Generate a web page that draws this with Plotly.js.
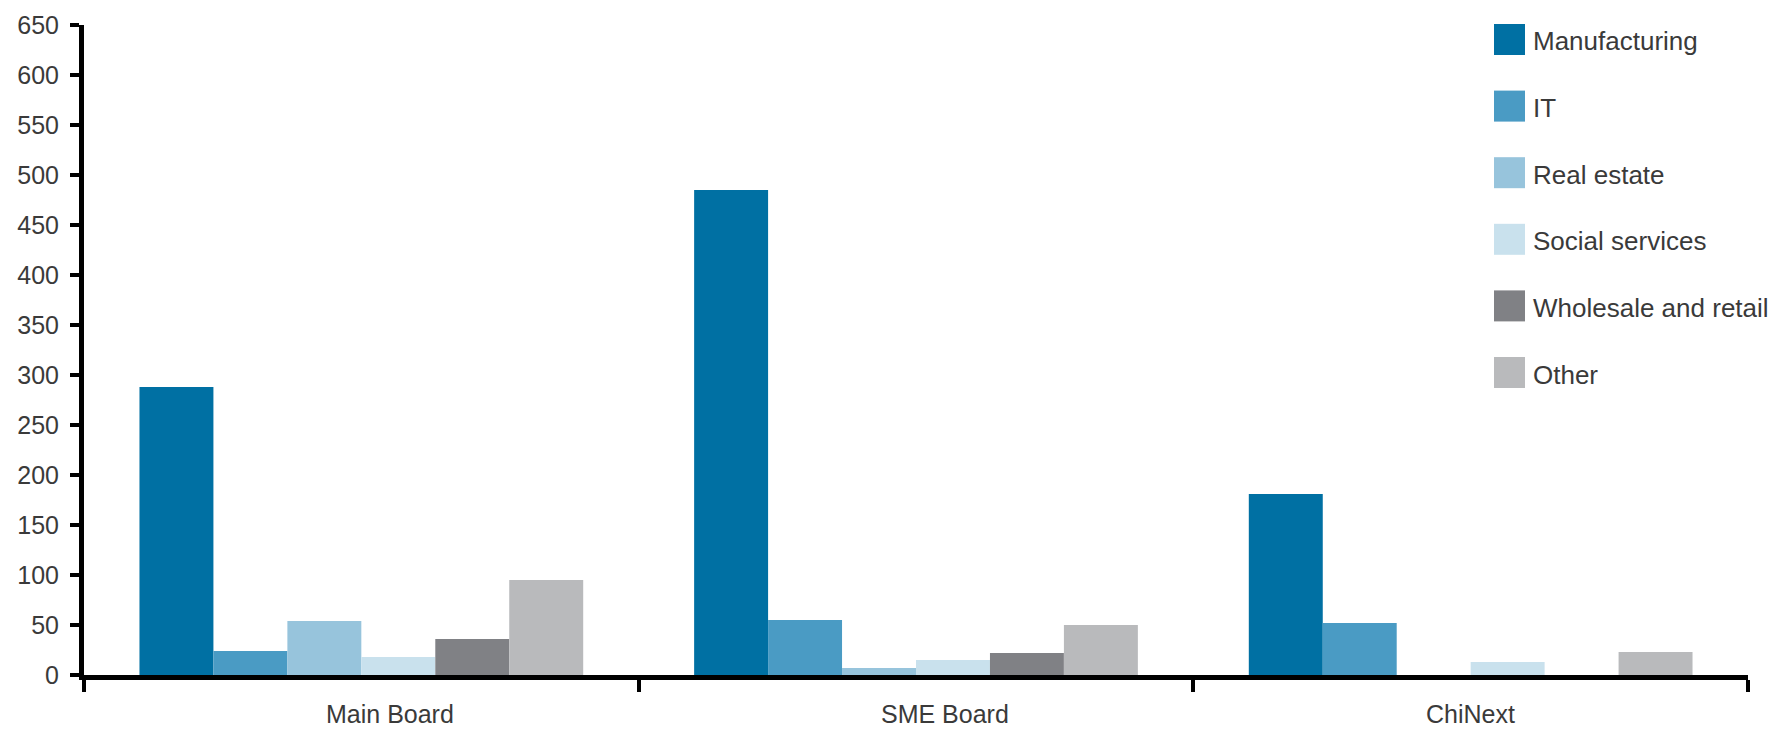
<!DOCTYPE html>
<html>
<head>
<meta charset="utf-8">
<script src="https://cdn.plot.ly/plotly-3.0.1.min.js"></script>
<style>
  html, body { margin: 0; padding: 0; background: #ffffff; }
  #chart { width: 1773px; height: 732px; }
</style>
</head>
<body>
<div id="chart"></div>
<script>
// ---- Data ----
const categories = ['Main Board', 'SME Board', 'ChiNext'];
const seriesNames = ['Manufacturing', 'IT', 'Real estate', 'Social services', 'Wholesale and retail', 'Other'];
const manufacturing = [288, 485, 181];
const it = [24, 55, 52];
const realEstate = [54, 7, 0];
const socialServices = [18, 15, 13];
const wholesaleRetail = [36, 22, 0];
const other = [95, 50, 23];
const seriesValues = [manufacturing, it, realEstate, socialServices, wholesaleRetail, other];
const seriesColors = ['#0070a3', '#4a9bc4', '#97c4dc', '#c9e1ed', '#808185', '#b9babc'];

// ---- Layout geometry (pixels) ----
const W = 1773, H = 732;
const M = { l: 84, r: 25, t: 25, b: 57 };
const plotW = W - M.l - M.r;
const plotH = H - M.t - M.b;
const px2x = px => (px - M.l) / plotW;
const px2y = py => 1 - (py - M.t) / plotH;

const textColor = '#3a3a3a';
const fontFamily = '"Liberation Sans", Arial, Helvetica, sans-serif';

const traces = seriesNames.map((name, i) => ({
  type: 'bar',
  name: name,
  x: categories,
  y: seriesValues[i],
  marker: { color: seriesColors[i], line: { width: 0 } },
  showlegend: false,
  hoverinfo: 'x+y+name'
}));

const shapes = [];
const annotations = [];

// ---- Category labels (placed as in the original artwork) ----
const catLabelShift = [29, 29, 0];
categories.forEach((c, i) => {
  annotations.push({
    xref: 'x', yref: 'paper',
    x: c, y: px2y(714),
    xanchor: 'center', yanchor: 'middle',
    xshift: catLabelShift[i],
    borderpad: 0,
    text: c, showarrow: false,
    font: { family: fontFamily, size: 25, color: textColor }
  });
});

// ---- Custom legend (large swatches) ----
const legX0 = 1494, legSw = 31, legY0 = 39.5, legStep = 66.6, legTextX = 1531;
seriesNames.forEach((name, i) => {
  const cy = legY0 + legStep * i;
  shapes.push({
    type: 'rect', xref: 'paper', yref: 'paper',
    x0: px2x(legX0), x1: px2x(legX0 + legSw),
    y0: px2y(cy + legSw / 2), y1: px2y(cy - legSw / 2),
    fillcolor: seriesColors[i], line: { width: 0 }, layer: 'above'
  });
  annotations.push({
    xref: 'paper', yref: 'paper',
    x: px2x(legTextX), y: px2y(cy + 2),
    xanchor: 'left', yanchor: 'middle',
    text: name, showarrow: false,
    font: { family: fontFamily, size: 26, color: textColor }
  });
});

const layout = {
  width: W, height: H,
  margin: M,
  paper_bgcolor: '#ffffff',
  plot_bgcolor: '#ffffff',
  barmode: 'group',
  bargap: 0.2,
  bargroupgap: 0,
  font: { family: fontFamily, size: 25, color: textColor },
  xaxis: {
    type: 'category',
    showline: true, linecolor: '#000000', linewidth: 5,
    ticks: 'outside', tickson: 'boundaries', ticklen: 12, tickwidth: 4, tickcolor: '#000000',
    showgrid: false, zeroline: false,
    showticklabels: false
  },
  yaxis: {
    range: [0, 650], dtick: 50, tick0: 0,
    showline: true, linecolor: '#000000', linewidth: 5,
    ticks: 'outside', ticklen: 9, tickwidth: 4, tickcolor: '#000000',
    showgrid: false, zeroline: false,
    tickfont: { family: fontFamily, size: 25, color: textColor },
    ticklabelstandoff: 6
  },
  shapes: shapes,
  annotations: annotations
};

Plotly.newPlot('chart', traces, layout, { displayModeBar: false, staticPlot: true });
</script>
</body>
</html>
